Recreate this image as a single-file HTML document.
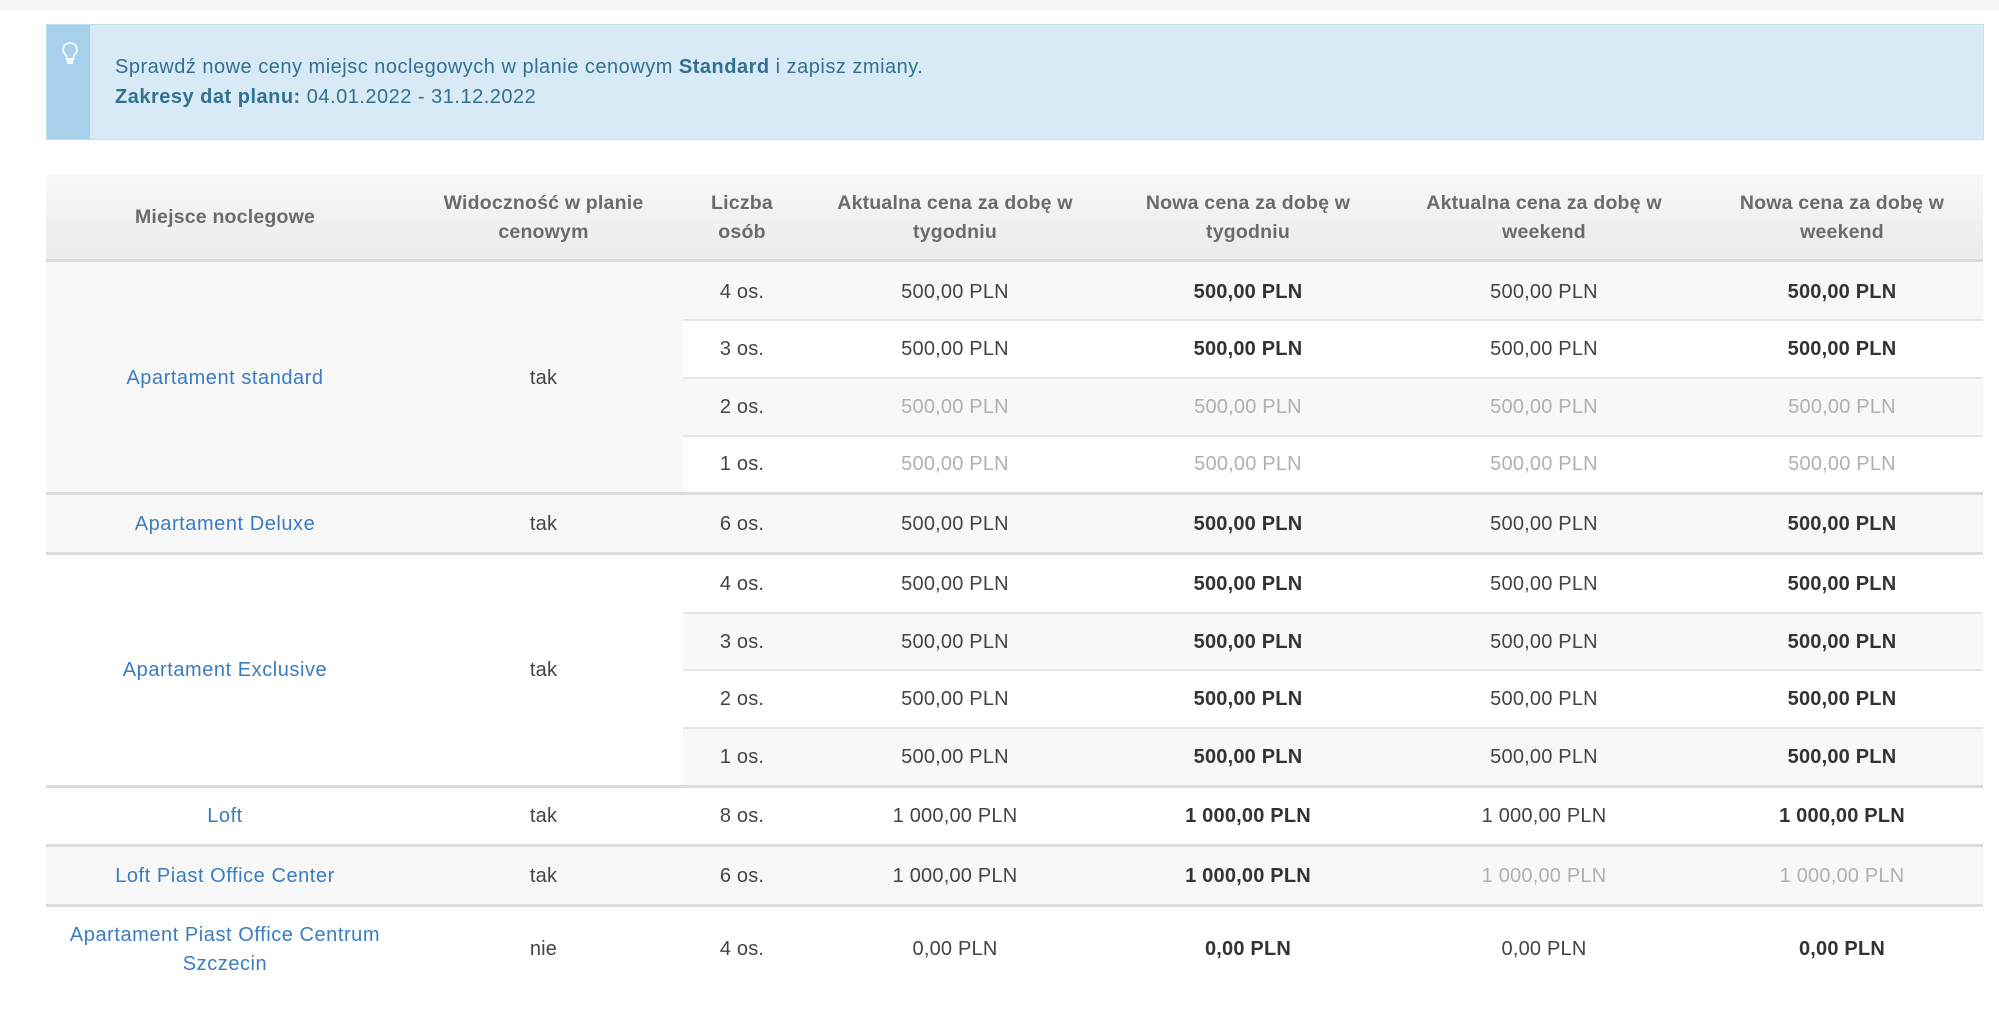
<!DOCTYPE html>
<html>
<head>
<meta charset="utf-8">
<style>
html,body{margin:0;padding:0;background:#fff;}
body{width:1999px;height:1017px;overflow:hidden;position:relative;font-family:"Liberation Sans",Arial,sans-serif;}
.a{position:absolute;}
.t{position:absolute;height:30px;line-height:30px;margin-top:-15px;text-align:center;font-size:20px;color:#444;white-space:nowrap;letter-spacing:0.2px;}
.h{color:#6b6b6b;font-weight:bold;font-size:19.5px;}
.b{font-weight:bold;color:#333;}
.g{color:#b0b0b0;}
.l{color:#3a7cc0;letter-spacing:0.55px;}
.al{color:#31708f;letter-spacing:0.5px;text-align:left;}
.bg{background:#f8f8f8;}
.ln{position:absolute;left:683px;width:1300px;height:2px;background:#e6e6e6;}
.sep{position:absolute;left:46px;width:1937px;height:3px;background:#dcdcdc;}
</style>
</head>
<body>
<!-- top bar -->
<div class="a" style="left:0;top:0;width:1999px;height:10px;background:#f5f5f5;"></div>

<!-- alert -->
<div class="a" style="left:46px;top:24px;width:1936px;height:114px;background:#d9eaf7;border:1px solid #bfe2f0;"></div>
<div class="a" style="left:47px;top:25px;width:43px;height:114px;background:#a7d0ec;"></div>
<svg class="a" style="left:60px;top:41px;" width="20" height="26" viewBox="0 0 20 26">
  <path d="M10 2 C5 2 3 5.5 3 8.5 C3 11.5 5.5 13.5 6.5 15.5 L6.5 18 L13.5 18 L13.5 15.5 C14.5 13.5 17 11.5 17 8.5 C17 5.5 15 2 10 2 Z" fill="none" stroke="#eef7fc" stroke-width="2"/>
  <rect x="6.5" y="18" width="7" height="5" rx="1.5" fill="#eef7fc"/>
</svg>
<div class="t al" style="left:115px;top:67px;">Sprawdź nowe ceny miejsc noclegowych w planie cenowym <b>Standard</b> i zapisz zmiany.</div>
<div class="t al" style="left:115px;top:97px;"><b>Zakresy dat planu:</b> 04.01.2022 - 31.12.2022</div>

<!-- header -->
<div class="a" style="left:46px;top:174px;width:1937px;height:85px;background:linear-gradient(#f8f8f8,#ebebeb);"></div>
<div class="a" style="left:46px;top:259px;width:1937px;height:3px;background:#dadada;"></div>
<div class="t h" style="left:46px;width:358px;top:217px;">Miejsce noclegowe</div>
<div class="t h" style="left:404px;width:279px;top:203px;">Widoczność w planie</div>
<div class="t h" style="left:404px;width:279px;top:232px;">cenowym</div>
<div class="t h" style="left:683px;width:118px;top:203px;">Liczba</div>
<div class="t h" style="left:683px;width:118px;top:232px;">osób</div>
<div class="t h" style="left:801px;width:308px;top:203px;">Aktualna cena za dobę w</div>
<div class="t h" style="left:801px;width:308px;top:232px;">tygodniu</div>
<div class="t h" style="left:1109px;width:278px;top:203px;">Nowa cena za dobę w</div>
<div class="t h" style="left:1109px;width:278px;top:232px;">tygodniu</div>
<div class="t h" style="left:1387px;width:314px;top:203px;">Aktualna cena za dobę w</div>
<div class="t h" style="left:1387px;width:314px;top:232px;">weekend</div>
<div class="t h" style="left:1701px;width:282px;top:203px;">Nowa cena za dobę w</div>
<div class="t h" style="left:1701px;width:282px;top:232px;">weekend</div>

<!-- backgrounds -->
<div class="a bg" style="left:46px;top:262px;width:637px;height:230px;"></div>
<div class="a bg" style="left:683px;top:262px;width:1300px;height:57px;"></div>
<div class="a bg" style="left:683px;top:379px;width:1300px;height:56px;"></div>
<div class="a bg" style="left:46px;top:495px;width:1937px;height:57px;"></div>
<div class="a bg" style="left:683px;top:614px;width:1300px;height:55px;"></div>
<div class="a bg" style="left:683px;top:729px;width:1300px;height:56px;"></div>
<div class="a bg" style="left:46px;top:847px;width:1937px;height:57px;"></div>

<!-- lines -->
<div class="ln" style="top:319px;"></div>
<div class="ln" style="top:377px;"></div>
<div class="ln" style="top:435px;"></div>
<div class="sep" style="top:492px;"></div>
<div class="sep" style="top:552px;"></div>
<div class="ln" style="top:612px;"></div>
<div class="ln" style="top:669px;"></div>
<div class="ln" style="top:727px;"></div>
<div class="sep" style="top:785px;"></div>
<div class="sep" style="top:844px;"></div>
<div class="sep" style="top:904px;"></div>

<!-- Apartament standard -->
<div class="t l" style="left:46px;width:358px;top:378px;">Apartament standard</div>
<div class="t" style="left:404px;width:279px;top:378px;">tak</div>

<div class="t" style="left:683px;width:118px;top:292px;">4 os.</div>
<div class="t" style="left:801px;width:308px;top:292px;">500,00 PLN</div>
<div class="t b" style="left:1109px;width:278px;top:292px;">500,00 PLN</div>
<div class="t" style="left:1387px;width:314px;top:292px;">500,00 PLN</div>
<div class="t b" style="left:1701px;width:282px;top:292px;">500,00 PLN</div>

<div class="t" style="left:683px;width:118px;top:349px;">3 os.</div>
<div class="t" style="left:801px;width:308px;top:349px;">500,00 PLN</div>
<div class="t b" style="left:1109px;width:278px;top:349px;">500,00 PLN</div>
<div class="t" style="left:1387px;width:314px;top:349px;">500,00 PLN</div>
<div class="t b" style="left:1701px;width:282px;top:349px;">500,00 PLN</div>

<div class="t" style="left:683px;width:118px;top:407px;">2 os.</div>
<div class="t g" style="left:801px;width:308px;top:407px;">500,00 PLN</div>
<div class="t g" style="left:1109px;width:278px;top:407px;">500,00 PLN</div>
<div class="t g" style="left:1387px;width:314px;top:407px;">500,00 PLN</div>
<div class="t g" style="left:1701px;width:282px;top:407px;">500,00 PLN</div>

<div class="t" style="left:683px;width:118px;top:464px;">1 os.</div>
<div class="t g" style="left:801px;width:308px;top:464px;">500,00 PLN</div>
<div class="t g" style="left:1109px;width:278px;top:464px;">500,00 PLN</div>
<div class="t g" style="left:1387px;width:314px;top:464px;">500,00 PLN</div>
<div class="t g" style="left:1701px;width:282px;top:464px;">500,00 PLN</div>

<!-- Deluxe -->
<div class="t l" style="left:46px;width:358px;top:524px;">Apartament Deluxe</div>
<div class="t" style="left:404px;width:279px;top:524px;">tak</div>
<div class="t" style="left:683px;width:118px;top:524px;">6 os.</div>
<div class="t" style="left:801px;width:308px;top:524px;">500,00 PLN</div>
<div class="t b" style="left:1109px;width:278px;top:524px;">500,00 PLN</div>
<div class="t" style="left:1387px;width:314px;top:524px;">500,00 PLN</div>
<div class="t b" style="left:1701px;width:282px;top:524px;">500,00 PLN</div>

<!-- Exclusive -->
<div class="t l" style="left:46px;width:358px;top:670px;">Apartament Exclusive</div>
<div class="t" style="left:404px;width:279px;top:670px;">tak</div>

<div class="t" style="left:683px;width:118px;top:584px;">4 os.</div>
<div class="t" style="left:801px;width:308px;top:584px;">500,00 PLN</div>
<div class="t b" style="left:1109px;width:278px;top:584px;">500,00 PLN</div>
<div class="t" style="left:1387px;width:314px;top:584px;">500,00 PLN</div>
<div class="t b" style="left:1701px;width:282px;top:584px;">500,00 PLN</div>

<div class="t" style="left:683px;width:118px;top:642px;">3 os.</div>
<div class="t" style="left:801px;width:308px;top:642px;">500,00 PLN</div>
<div class="t b" style="left:1109px;width:278px;top:642px;">500,00 PLN</div>
<div class="t" style="left:1387px;width:314px;top:642px;">500,00 PLN</div>
<div class="t b" style="left:1701px;width:282px;top:642px;">500,00 PLN</div>

<div class="t" style="left:683px;width:118px;top:699px;">2 os.</div>
<div class="t" style="left:801px;width:308px;top:699px;">500,00 PLN</div>
<div class="t b" style="left:1109px;width:278px;top:699px;">500,00 PLN</div>
<div class="t" style="left:1387px;width:314px;top:699px;">500,00 PLN</div>
<div class="t b" style="left:1701px;width:282px;top:699px;">500,00 PLN</div>

<div class="t" style="left:683px;width:118px;top:757px;">1 os.</div>
<div class="t" style="left:801px;width:308px;top:757px;">500,00 PLN</div>
<div class="t b" style="left:1109px;width:278px;top:757px;">500,00 PLN</div>
<div class="t" style="left:1387px;width:314px;top:757px;">500,00 PLN</div>
<div class="t b" style="left:1701px;width:282px;top:757px;">500,00 PLN</div>

<!-- Loft -->
<div class="t l" style="left:46px;width:358px;top:816px;">Loft</div>
<div class="t" style="left:404px;width:279px;top:816px;">tak</div>
<div class="t" style="left:683px;width:118px;top:816px;">8 os.</div>
<div class="t" style="left:801px;width:308px;top:816px;">1 000,00 PLN</div>
<div class="t b" style="left:1109px;width:278px;top:816px;">1 000,00 PLN</div>
<div class="t" style="left:1387px;width:314px;top:816px;">1 000,00 PLN</div>
<div class="t b" style="left:1701px;width:282px;top:816px;">1 000,00 PLN</div>

<!-- Loft Piast -->
<div class="t l" style="left:46px;width:358px;top:876px;">Loft Piast Office Center</div>
<div class="t" style="left:404px;width:279px;top:876px;">tak</div>
<div class="t" style="left:683px;width:118px;top:876px;">6 os.</div>
<div class="t" style="left:801px;width:308px;top:876px;">1 000,00 PLN</div>
<div class="t b" style="left:1109px;width:278px;top:876px;">1 000,00 PLN</div>
<div class="t g" style="left:1387px;width:314px;top:876px;">1 000,00 PLN</div>
<div class="t g" style="left:1701px;width:282px;top:876px;">1 000,00 PLN</div>

<!-- Apartament Piast -->
<div class="t l" style="left:46px;width:358px;top:935px;">Apartament Piast Office Centrum</div>
<div class="t l" style="left:46px;width:358px;top:964px;">Szczecin</div>
<div class="t" style="left:404px;width:279px;top:949px;">nie</div>
<div class="t" style="left:683px;width:118px;top:949px;">4 os.</div>
<div class="t" style="left:801px;width:308px;top:949px;">0,00 PLN</div>
<div class="t b" style="left:1109px;width:278px;top:949px;">0,00 PLN</div>
<div class="t" style="left:1387px;width:314px;top:949px;">0,00 PLN</div>
<div class="t b" style="left:1701px;width:282px;top:949px;">0,00 PLN</div>
</body>
</html>
